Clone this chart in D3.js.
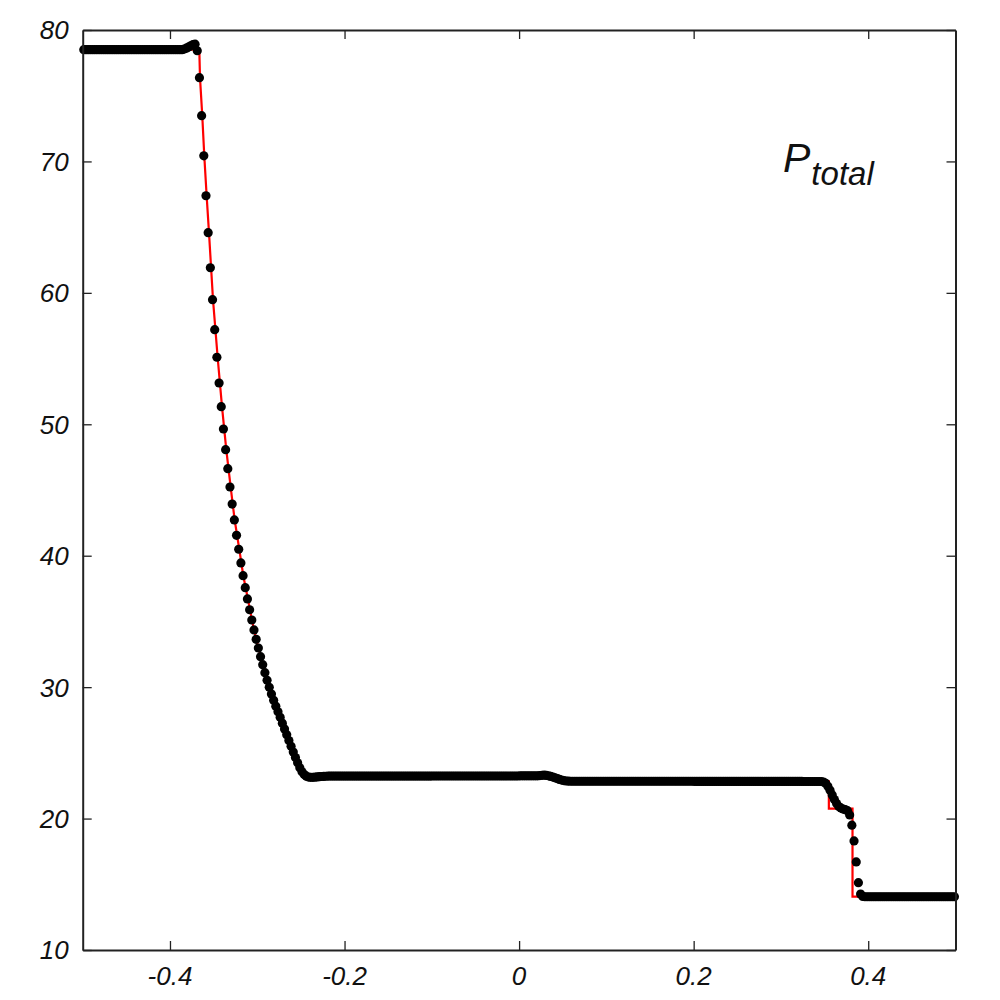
<!DOCTYPE html>
<html>
<head>
<meta charset="utf-8">
<script src="https://cdn.jsdelivr.net/npm/d3@7"></script>
<style>
  html, body { margin: 0; padding: 0; background: #fff; }
  svg { display: block; }
  text { font-family: "Liberation Sans", Arial, sans-serif; font-style: italic; fill: #111; }
</style>
</head>
<body>
<svg id="chart" width="1000" height="1000"></svg>
<script>
// ---- data ----
const xDomain = [-0.5, 0.5];
const yDomain = [10, 80];
const xTicks = [-0.4, -0.2, 0, 0.2, 0.4];
const xTickLabels = ["-0.4", "-0.2", "0", "0.2", "0.4"];
const yTicks = [10, 20, 30, 40, 50, 60, 70, 80];
const yTickLabels = ["10", "20", "30", "40", "50", "60", "70", "80"];
const nCells = 400; // numerical grid: cell centres across [-0.5, 0.5]

// numerical solution (black dots), one value per cell
const numY = [
  78.5,78.5,78.5,78.5,78.5,78.5,78.5,78.5,78.5,78.5,
  78.5,78.5,78.5,78.5,78.5,78.5,78.5,78.5,78.5,78.5,
  78.5,78.5,78.5,78.5,78.5,78.5,78.5,78.5,78.5,78.5,
  78.5,78.5,78.5,78.5,78.5,78.5,78.5,78.5,78.5,78.5,
  78.5,78.5,78.5,78.5,78.5,78.5,78.55,78.62,78.7,78.8,
  78.88,78.92,78.42,76.37,73.48,70.43,67.39,64.58,61.91,59.48,
  57.2,55.1,53.14,51.34,49.64,48.07,46.62,45.23,43.93,42.72,
  41.55,40.49,39.45,38.48,37.57,36.71,35.89,35.11,34.35,33.64,
  32.98,32.32,31.71,31.1,30.52,29.99,29.47,29.0,28.55,28.12,
  27.7,27.26,26.82,26.38,25.94,25.5,25.06,24.64,24.24,23.87,
  23.56,23.35,23.22,23.16,23.14,23.14,23.15,23.17,23.19,23.2,
  23.21,23.22,23.23,23.23,23.23,23.23,23.23,23.23,23.23,23.23,
  23.23,23.23,23.23,23.23,23.23,23.23,23.23,23.23,23.23,23.23,
  23.23,23.23,23.23,23.23,23.23,23.23,23.23,23.23,23.23,23.23,
  23.23,23.23,23.23,23.23,23.23,23.23,23.23,23.23,23.23,23.23,
  23.23,23.23,23.23,23.23,23.23,23.23,23.23,23.23,23.23,23.23,
  23.24,23.24,23.24,23.24,23.24,23.24,23.24,23.24,23.24,23.24,
  23.24,23.24,23.24,23.24,23.24,23.24,23.24,23.24,23.24,23.24,
  23.24,23.24,23.24,23.24,23.24,23.24,23.24,23.24,23.24,23.24,
  23.24,23.24,23.24,23.24,23.24,23.24,23.24,23.24,23.24,23.24,
  23.25,23.25,23.25,23.25,23.25,23.25,23.25,23.25,23.25,23.27,
  23.29,23.3,23.28,23.25,23.21,23.16,23.1,23.04,22.98,22.93,
  22.89,22.86,22.85,22.84,22.84,22.84,22.84,22.84,22.84,22.84,
  22.84,22.84,22.84,22.84,22.84,22.84,22.84,22.84,22.84,22.84,
  22.84,22.84,22.84,22.84,22.84,22.84,22.84,22.84,22.84,22.84,
  22.84,22.84,22.84,22.84,22.84,22.84,22.84,22.84,22.84,22.84,
  22.84,22.84,22.84,22.84,22.84,22.84,22.84,22.84,22.84,22.84,
  22.84,22.84,22.84,22.84,22.84,22.84,22.84,22.84,22.84,22.84,
  22.83,22.83,22.83,22.83,22.83,22.83,22.83,22.83,22.83,22.83,
  22.83,22.83,22.83,22.83,22.83,22.83,22.83,22.83,22.83,22.83,
  22.83,22.83,22.83,22.83,22.83,22.83,22.83,22.83,22.83,22.83,
  22.83,22.83,22.83,22.83,22.83,22.83,22.83,22.83,22.83,22.83,
  22.83,22.83,22.83,22.83,22.83,22.83,22.83,22.83,22.83,22.83,
  22.82,22.82,22.82,22.82,22.82,22.82,22.82,22.82,22.82,22.78,
  22.68,22.45,22.15,21.8,21.45,21.15,20.92,20.8,20.72,20.68,
  20.6,20.27,19.5,18.3,16.7,15.12,14.26,14.08,14.05,14.05,
  14.05,14.05,14.05,14.05,14.05,14.05,14.05,14.05,14.05,14.05,
  14.05,14.05,14.05,14.05,14.05,14.05,14.05,14.05,14.05,14.05,
  14.05,14.05,14.05,14.05,14.05,14.05,14.05,14.05,14.05,14.05,
  14.05,14.05,14.05,14.05,14.05,14.05,14.05,14.05,14.05,14.05
];

// exact solution (red line)
const exactX = [-0.5, -0.3664, -0.3656, -0.3630, -0.3607, -0.3580, -0.3553, -0.3507, -0.3454,
  -0.3404, -0.3355, -0.3305, -0.3259, -0.3206, -0.3160, -0.3107, -0.3061, -0.3012, -0.2958,
  -0.2908, -0.2858, -0.2740, -0.2645, -0.2549, -0.2473, -0.2459, 0.035, 0.058,
  0.3549, 0.3549, 0.3820, 0.3820, 0.5];
const exactY = [78.5, 78.5, 76.37, 73.48, 70.43, 67.39, 64.58, 59.48, 55.10,
  51.34, 48.07, 45.23, 42.72, 40.49, 38.48, 36.71, 35.11, 33.64, 32.32,
  31.10, 29.99, 27.80, 26.17, 24.57, 23.54, 23.24, 23.24, 22.83,
  22.83, 20.76, 20.76, 14.06, 14.06];

// ---- layout ----
const m = { left: 82.7, right: 955.5, top: 30, bottom: 950 };
const svg = d3.select("#chart");
const x = d3.scaleLinear().domain(xDomain).range([m.left, m.right]);
const y = d3.scaleLinear().domain(yDomain).range([m.bottom, m.top]);

const cellW = (xDomain[1] - xDomain[0]) / nCells;
const numPts = numY.map((v, i) => [xDomain[0] + (i + 0.5) * cellW, v]);
const exactPts = exactX.map((v, i) => [v, exactY[i]]);

// exact (red)
svg.append("path")
  .datum(exactPts)
  .attr("fill", "none")
  .attr("stroke", "#ff0000")
  .attr("stroke-width", 2.2)
  .attr("stroke-linejoin", "miter")
  .attr("d", d3.line().x(d => x(d[0])).y(d => y(d[1])));

// numerical (black dots)
svg.append("g")
  .selectAll("circle")
  .data(numPts)
  .join("circle")
  .attr("cx", d => x(d[0]))
  .attr("cy", d => y(d[1]))
  .attr("r", 4.6)
  .attr("fill", "#000");

// axes (ticks inward, mirrored)
const tickLen = 9;
const axisColor = "#222";
const gB = svg.append("g").attr("transform", `translate(0,${m.bottom})`)
  .call(d3.axisBottom(x).tickValues(xTicks).tickSizeInner(-tickLen).tickSizeOuter(0).tickFormat(""));
const gT = svg.append("g").attr("transform", `translate(0,${m.top})`)
  .call(d3.axisTop(x).tickValues(xTicks).tickSizeInner(-tickLen).tickSizeOuter(0).tickFormat(""));
const gL = svg.append("g").attr("transform", `translate(${m.left},0)`)
  .call(d3.axisLeft(y).tickValues(yTicks).tickSizeInner(-tickLen).tickSizeOuter(0).tickFormat(""));
const gR = svg.append("g").attr("transform", `translate(${m.right},0)`)
  .call(d3.axisRight(y).tickValues(yTicks).tickSizeInner(-tickLen).tickSizeOuter(0).tickFormat(""));
[gB, gT, gL, gR].forEach(g => {
  g.select(".domain").attr("stroke", axisColor).attr("stroke-width", 2);
  g.selectAll(".tick line").attr("stroke", axisColor).attr("stroke-width", 1.3);
});

// tick labels
svg.append("g").selectAll("text").data(xTicks).join("text")
  .attr("x", d => x(d))
  .attr("y", m.bottom + 35)
  .attr("text-anchor", "middle")
  .attr("font-size", 26)
  .text((d, i) => xTickLabels[i]);
svg.append("g").selectAll("text").data(yTicks).join("text")
  .attr("x", m.left - 14)
  .attr("y", d => y(d) + 9.4)
  .attr("text-anchor", "end")
  .attr("font-size", 26)
  .text((d, i) => yTickLabels[i]);

// label P_total
const lab = svg.append("text").attr("x", 783).attr("y", 171.5);
lab.append("tspan").attr("font-size", 41).text("P");
lab.append("tspan").attr("font-size", 33).attr("dy", 13.5).attr("dx", 1).text("total");
</script>
</body>
</html>
